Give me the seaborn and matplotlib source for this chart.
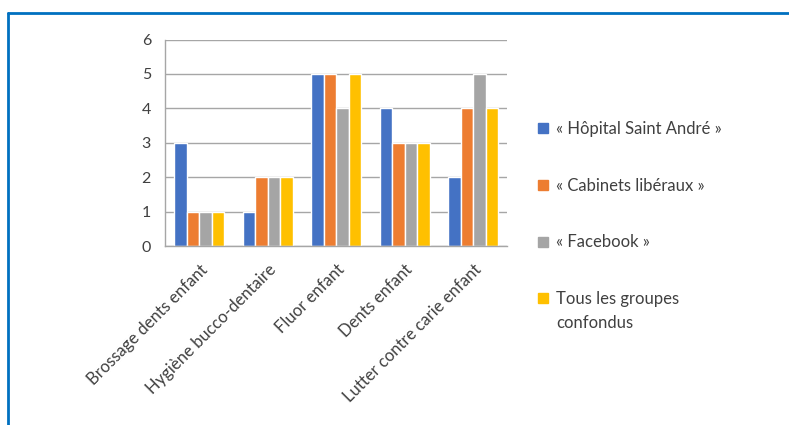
import pandas as pd
import seaborn as sns
import matplotlib.pyplot as plt
from matplotlib.lines import Line2D

# données
categories = ["Brossage dents enfant", "Hygiène bucco-dentaire", "Fluor enfant",
              "Dents enfant", "Lutter contre carie enfant"]
groupes = ["« Hôpital Saint André »", "« Cabinets libéraux »", "« Facebook »",
           "Tous les groupes"]
hopital = [3, 1, 5, 4, 2]
cabinets = [1, 2, 5, 3, 4]
facebook = [1, 2, 4, 3, 5]
tous = [1, 2, 5, 3, 4]
couleurs = ["#4472C4", "#ED7D31", "#A5A5A5", "#FFC000"]

rows = []
for g, vals in zip(groupes, [hopital, cabinets, facebook, tous]):
    for c, v in zip(categories, vals):
        rows.append({"categorie": c, "groupe": g, "valeur": v})
df = pd.DataFrame(rows)

sns.set_style("white")
plt.rcParams['font.family'] = ['Lato', 'DejaVu Sans']

fig = plt.figure(figsize=(7.89, 4.25), dpi=100)
ax = fig.add_axes([0.209, 0.421, 0.434, 0.486])

sns.barplot(data=df, x="categorie", y="valeur", hue="groupe", palette=couleurs,
            width=0.73, ax=ax, saturation=1, legend=False)

ax.set_xlim(-0.5, 4.5)
ax.set_ylim(0, 6)
ax.set_yticks(range(0, 7))
ax.yaxis.grid(True, color="#a6a6a6", linewidth=1)
ax.set_axisbelow(True)
ax.set_xlabel("")
ax.set_ylabel("")

for s in ["top", "right"]:
    ax.spines[s].set_visible(False)
for s in ["left", "bottom"]:
    ax.spines[s].set_color("#a6a6a6")
    ax.spines[s].set_linewidth(1)

# graduations x entre catégories
ax.set_xticks(range(5))
ax.set_xticklabels(categories, rotation=45, ha="right", rotation_mode="anchor",
                   fontsize=12, color="#404040")
ax.tick_params(axis="x", length=0, pad=11)
ax.set_xticks([i - 0.5 for i in range(6)], minor=True)
ax.tick_params(axis="x", which="minor", length=4, color="#a6a6a6", width=1)
ax.tick_params(axis="y", length=4, color="#a6a6a6", width=1, labelsize=11.5,
               labelcolor="#404040", pad=6)

handles = [Line2D([0], [0], marker="s", linestyle="", markersize=7,
                  markerfacecolor=c, markeredgecolor=c) for c in couleurs]
leg = fig.legend(handles, groupes, loc="upper left", bbox_to_anchor=(0.663, 0.751),
                 frameon=False, fontsize=12, labelspacing=2.45, handlelength=0.6,
                 handletextpad=0.5, labelcolor="#404040")

# deuxième ligne du dernier libellé
fig.canvas.draw()
bb = leg.get_texts()[-1].get_window_extent().transformed(fig.transFigure.inverted())
fig.text(bb.x0, bb.y0 - 0.017, "confondus", fontsize=12, color="#404040",
         ha="left", va="top")

# cadre bleu
fig.add_artist(Line2D([0.0105, 1], [0.969, 0.969], color="#0070C0", linewidth=2,
                      transform=fig.transFigure))
fig.add_artist(Line2D([0.0105, 0.0105], [0, 0.969], color="#0070C0", linewidth=2,
                      transform=fig.transFigure))

fig.savefig("out.png", dpi=100)
